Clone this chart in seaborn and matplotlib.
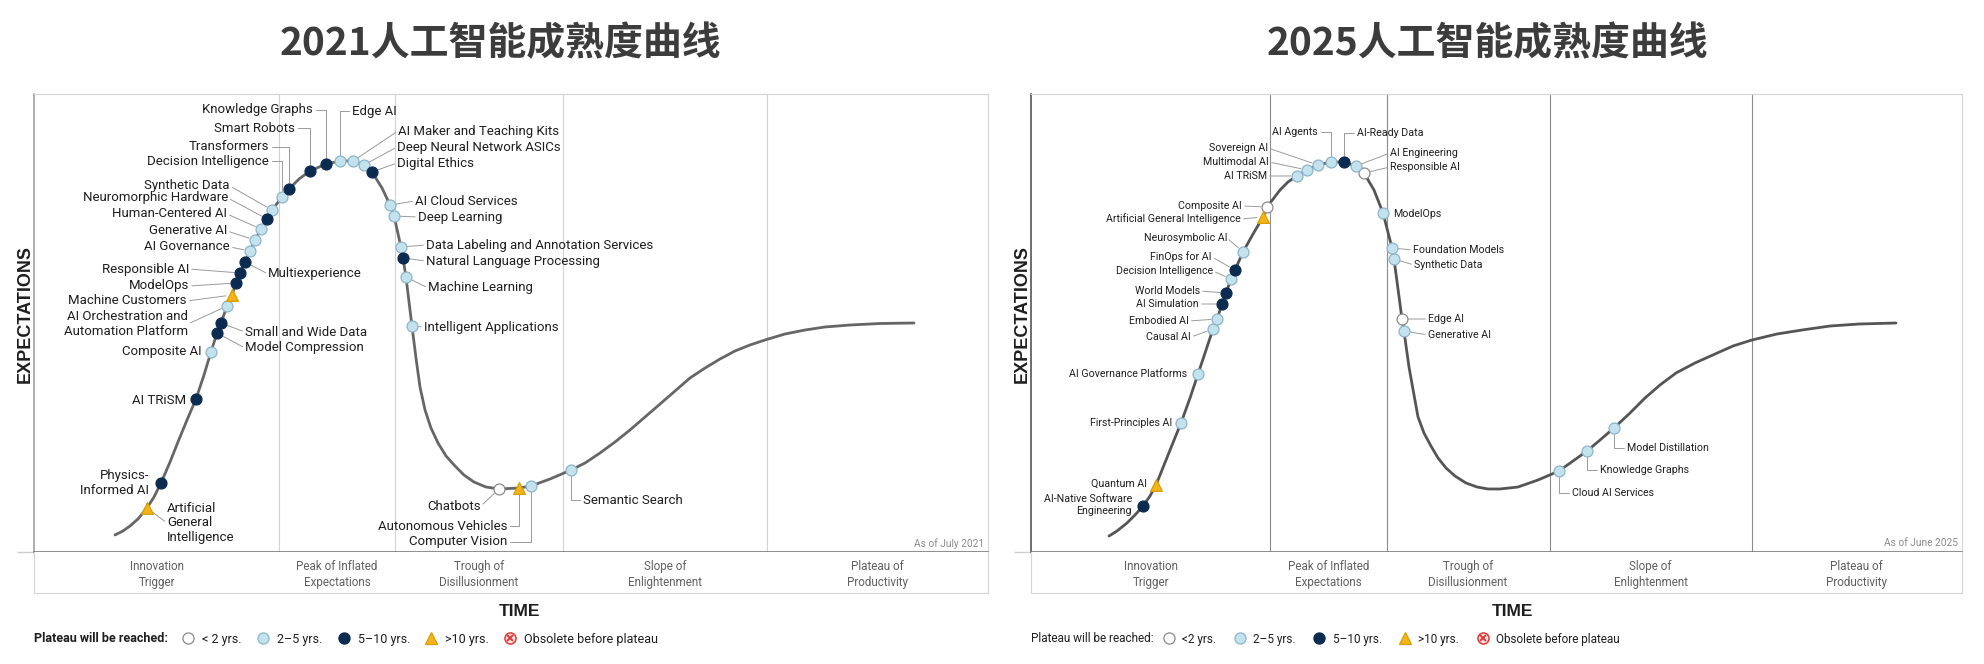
import numpy as np
import pandas as pd
import seaborn as sns
import matplotlib.pyplot as plt
from matplotlib.lines import Line2D
from matplotlib.legend_handler import HandlerTuple

# ---------------- 2021 hype cycle (time 0-100, expectations 0-100) ----------------
curve21_t = [8.49, 9.33, 10.06, 10.90, 11.84, 12.58, 13.31, 14.26, 15.09, 16.04, 16.98, 17.82,
             18.55, 19.18, 19.60, 20.23, 20.75, 21.17, 21.59, 22.12, 22.64, 23.17, 23.79, 24.42,
             24.95, 25.99, 26.73, 27.78, 28.93, 30.61, 32.08, 33.44, 34.59, 35.43, 36.48, 37.32,
             37.74, 38.47, 38.68, 38.99, 39.62, 40.04, 40.46, 40.99, 41.61, 42.35, 43.19, 44.13,
             45.07, 46.12, 47.38, 48.74, 50.84, 52.10, 54.09, 56.29, 57.76, 59.33, 60.90, 62.47,
             64.05, 65.62, 67.19, 68.76, 70.34, 71.91, 73.48, 75.05, 76.62, 78.72, 80.82, 82.91,
             85.53, 88.68, 92.24]
curve21_e = [3.71, 4.59, 5.68, 7.21, 9.61, 12.01, 15.07, 19.65, 24.02, 28.82, 33.41, 38.65,
             43.67, 47.82, 50.00, 53.71, 56.11, 58.73, 60.92, 63.32, 65.72, 68.12, 70.52, 72.71,
             74.67, 77.51, 79.26, 81.44, 83.19, 84.72, 85.37, 85.37, 84.50, 82.97, 79.48, 75.76,
             73.36, 66.59, 64.19, 60.04, 49.34, 42.36, 36.03, 31.00, 27.07, 23.80, 20.96, 18.78,
             16.81, 15.28, 14.19, 13.76, 13.97, 14.41, 15.94, 17.90, 19.43, 21.62, 24.02, 26.64,
             29.48, 32.31, 35.15, 37.99, 40.17, 42.14, 43.89, 45.20, 46.29, 47.60, 48.47, 49.13,
             49.56, 49.89, 50.00]

names21 = ["Artificial\nGeneral\nIntelligence", "Physics-\nInformed AI", "AI TRiSM", "Composite AI",
           "Model Compression", "Small and Wide Data", "AI Orchestration and\nAutomation Platform",
           "Machine Customers", "ModelOps", "Responsible AI", "Multiexperience", "AI Governance",
           "Generative AI", "Human-Centered AI", "Neuromorphic Hardware", "Synthetic Data",
           "Decision Intelligence", "Transformers", "Smart Robots", "Knowledge Graphs", "Edge AI",
           "AI Maker and Teaching Kits", "Deep Neural Network ASICs", "Digital Ethics",
           "AI Cloud Services", "Deep Learning", "Data Labeling and Annotation Services",
           "Natural Language Processing", "Machine Learning", "Intelligent Applications",
           "Chatbots", "Autonomous Vehicles", "Computer Vision", "Semantic Search"]
t21 = [11.84, 13.31, 16.98, 18.55, 19.18, 19.60, 20.23, 20.75, 21.17, 21.59, 22.12, 22.64,
       23.17, 23.79, 24.42, 24.95, 25.99, 26.73, 28.93, 30.61, 32.08, 33.44, 34.59, 35.43,
       37.32, 37.74, 38.47, 38.68, 38.99, 39.62, 48.74, 50.84, 52.10, 56.29]
e21 = [9.61, 15.07, 33.41, 43.67, 47.82, 50.00, 53.71, 56.11, 58.73, 60.92, 63.32, 65.72,
       68.12, 70.52, 72.71, 74.67, 77.51, 79.26, 83.19, 84.72, 85.37, 85.37, 84.50, 82.97,
       75.76, 73.36, 66.59, 64.19, 60.04, 49.34, 13.76, 13.97, 14.41, 17.90]
cat21 = [">10", "5-10", "5-10", "2-5", "5-10", "5-10", "2-5", ">10", "5-10", "5-10", "5-10", "2-5",
         "2-5", "2-5", "5-10", "2-5", "2-5", "5-10", "5-10", "5-10", "2-5", "2-5", "2-5", "5-10",
         "2-5", "2-5", "2-5", "5-10", "2-5", "2-5", "<2", ">10", "2-5", "2-5"]

# ---------------- 2025 hype cycle ----------------
curve25_t = [8.38, 9.24, 10.31, 11.17, 12.03, 12.78, 13.43, 14.72, 16.11, 17.08, 17.94, 18.80,
             19.55, 19.98, 20.52, 20.95, 21.48, 21.91, 22.77, 23.85, 24.92, 25.35, 26.75, 27.60,
             28.57, 29.65, 30.83, 32.22, 33.62, 34.91, 35.77, 36.84, 37.81, 38.78, 38.99, 39.85,
             40.06, 40.60, 41.14, 41.57, 42.21, 42.96, 43.72, 44.58, 45.54, 46.72, 47.91, 49.09,
             50.38, 52.31, 54.46, 56.71, 58.22, 59.72, 61.12, 62.62, 64.34, 65.95, 67.56, 69.28,
             71.32, 73.47, 75.40, 77.44, 80.13, 82.81, 85.82, 88.94, 92.91]
curve25_e = [3.49, 4.59, 6.33, 8.08, 10.04, 12.23, 14.63, 21.18, 28.17, 33.62, 38.86, 44.10,
             48.69, 50.87, 54.15, 56.55, 59.61, 61.57, 65.50, 69.43, 73.14, 75.33, 79.04, 80.79,
             82.10, 83.41, 84.50, 85.15, 85.15, 84.28, 82.75, 79.04, 74.02, 66.38, 63.97, 50.87,
             48.25, 40.39, 34.28, 29.48, 25.98, 23.14, 20.52, 18.34, 16.59, 15.07, 14.19, 13.76,
             13.76, 14.19, 15.72, 17.69, 19.87, 22.05, 24.45, 27.07, 30.35, 33.62, 36.46, 39.08,
             41.27, 43.23, 44.98, 46.29, 47.60, 48.47, 49.34, 49.78, 50.00]

names25 = ["AI-Native Software\nEngineering", "Quantum AI", "First-Principles AI",
           "AI Governance Platforms", "Causal AI", "Embodied AI", "AI Simulation", "World Models",
           "Decision Intelligence", "FinOps for AI", "Neurosymbolic AI",
           "Artificial General Intelligence", "Composite AI", "AI TRiSM", "Multimodal AI",
           "Sovereign AI", "AI Agents", "AI-Ready Data", "AI Engineering", "Responsible AI",
           "ModelOps", "Foundation Models", "Synthetic Data", "Edge AI", "Generative AI",
           "Cloud AI Services", "Knowledge Graphs", "Model Distillation"]
t25 = [12.03, 13.43, 16.11, 17.94, 19.55, 19.98, 20.52, 20.95, 21.48, 21.91, 22.77, 24.92,
       25.35, 28.57, 29.65, 30.83, 32.22, 33.62, 34.91, 35.77, 37.81, 38.78, 38.99, 39.85,
       40.06, 56.71, 59.72, 62.62]
e25 = [10.04, 14.63, 28.17, 38.86, 48.69, 50.87, 54.15, 56.55, 59.61, 61.57, 65.50, 73.14,
       75.33, 82.10, 83.41, 84.50, 85.15, 85.15, 84.28, 82.75, 74.02, 66.38, 63.97, 50.87,
       48.25, 17.69, 22.05, 27.07]
cat25 = ["5-10", ">10", "2-5", "2-5", "2-5", "2-5", "5-10", "5-10", "2-5", "5-10", "2-5", ">10",
         "<2", "2-5", "2-5", "2-5", "2-5", "5-10", "2-5", "<2", "2-5", "2-5", "2-5", "<2",
         "2-5", "2-5", "2-5", "2-5"]

phases = ["Innovation\nTrigger", "Peak of Inflated\nExpectations", "Trough of\nDisillusionment",
          "Slope of\nEnlightenment", "Plateau of\nProductivity"]
bounds21 = [25.7, 37.8, 55.5, 76.8]
bounds25 = [25.7, 38.2, 55.7, 77.4]

legend_labels21 = ["< 2 yrs.", "2\u20135 yrs.", "5\u201310 yrs.", ">10 yrs.", "Obsolete before plateau"]
legend_labels25 = ["<2 yrs.", "2\u20135 yrs.", "5\u201310 yrs.", ">10 yrs.", "Obsolete before plateau"]

# ---------------- styles / layout ----------------
STYLE = {
    "<2": dict(marker="o", color="white", edgecolor="#8a8a8a", s=62),
    "2-5": dict(marker="o", color="#c4e1ee", edgecolor="#8db5c9", s=62),
    "5-10": dict(marker="o", color="#0c2b50", edgecolor="#0c2b50", s=62),
    ">10": dict(marker="^", color="#f2b418", edgecolor="#d99f00", s=72),
}

W, H = 1984, 664
YT, YB, BB = 94, 552, 593

# label anchor (pixel x, pixel y, alignment, leader kind)
lab21 = [(167, 523, "left", "s"), (149, 483, "right", None), (186, 401, "right", None),
         (202, 352, "right", None), (245, 348, "left", "s"), (245, 332, "left", "s"),
         (188, 324, "right", "s"), (187, 301, "right", "s"), (189, 286, "right", "s"),
         (189, 269, "right", "s"), (268, 274, "left", "s"), (230, 247, "right", "s"),
         (227, 231, "right", "s"), (227, 214, "right", "s"), (228, 198, "right", "s"),
         (230, 186, "right", "s"), (269, 161, "right", "e"), (269, 147, "right", "e"),
         (295, 128, "right", "e"), (313, 110, "right", "e"), (352, 111, "left", "e"),
         (398, 131, "left", "s"), (397, 147, "left", "s"), (397, 163, "left", "s"),
         (415, 201, "left", "s"), (418, 217, "left", "s"), (426, 245, "left", "s"),
         (426, 261, "left", "s"), (428, 288, "left", "s"), (424, 327, "left", "s"),
         (481, 506, "right", "s"), (507, 526, "right", "e"), (507, 542, "right", "e"),
         (583, 500, "left", "e")]
lab25 = [(1132, 505, "right", None), (1147, 484, "right", None), (1172, 423, "right", None),
         (1187, 374, "right", None), (1191, 337, "right", "s"), (1189, 321, "right", "s"),
         (1199, 304, "right", "s"), (1200, 291, "right", "s"), (1213, 271, "right", "s"),
         (1212, 257, "right", "s"), (1227, 238, "right", "s"), (1241, 219, "right", "s"),
         (1242, 206, "right", "s"), (1267, 176, "right", "s"), (1269, 162, "right", "s"),
         (1268, 148, "right", "s"), (1318, 132, "right", "e"), (1357, 133, "left", "e"),
         (1390, 153, "left", "s"), (1390, 167, "left", "s"), (1393, 214, "left", None),
         (1413, 250, "left", "s"), (1414, 265, "left", "s"), (1428, 319, "left", "s"),
         (1428, 335, "left", "s"), (1572, 493, "left", "e"), (1600, 470, "left", "e"),
         (1627, 448, "left", "e")]

sns.set_theme(style="white")
plt.rcParams["font.family"] = ["Roboto", "DejaVu Sans"]

fig = plt.figure(figsize=(W / 100, H / 100), dpi=100)
fig.patch.set_facecolor("white")


def draw_panel(x0, x1, curve_t, curve_e, names, t, e, cat, labels, bounds, fs,
               left_col, bottom_col, div_col, curve_col, stamp, stamp_text, title, title_x,
               time_x, legend_labels, legend_bold, leg_fs, leg_x, colsp):
    ax = fig.add_axes([x0 / W, 1 - YB / H, (x1 - x0) / W, (YB - YT) / H])
    band = fig.add_axes([x0 / W, 1 - BB / H, (x1 - x0) / W, (BB - YB) / H])

    def p2d(px, py):
        return (px - x0) / (x1 - x0) * 100, (YB - py) / (YB - YT) * 100

    ax.set_xlim(0, 100)
    ax.set_ylim(0, 100)
    ax.set_xticks([])
    ax.set_yticks([0])
    ax.set_yticklabels([])
    ax.tick_params(axis="y", length=12, color="#cfcfcf", width=1, left=True)
    for side in ["top", "right"]:
        ax.spines[side].set_color("#d5d5d5")
        ax.spines[side].set_linewidth(0.8)
    ax.spines["left"].set_color(left_col)
    ax.spines["left"].set_linewidth(1.2)
    ax.spines["bottom"].set_color(bottom_col)
    ax.spines["bottom"].set_linewidth(1.2)
    for b in bounds:
        ax.axvline(b, color=div_col, lw=0.8, zorder=0)

    sns.lineplot(x=curve_t, y=curve_e, sort=False, estimator=None, color=curve_col,
                 lw=2.0, ax=ax, zorder=2)

    df = pd.DataFrame({"name": names, "t": t, "e": e, "cat": cat})
    for c, st in STYLE.items():
        sub = df[df["cat"] == c]
        if len(sub):
            sns.scatterplot(data=sub, x="t", y="e", marker=st["marker"], color=st["color"],
                            edgecolor=st["edgecolor"], s=st["s"], linewidth=0.9, ax=ax,
                            zorder=5, legend=False)

    for (name, ti, ei), (lx, ly, ha, kind) in zip(zip(names, t, e), labels):
        arrow = None
        if kind is not None:
            cs = "angle,angleA=0,angleB=90,rad=0" if kind == "e" else "arc3"
            arrow = dict(arrowstyle="-", color="#9a9a9a", lw=0.7, shrinkA=2, shrinkB=4.5,
                         patchA=None, relpos=(1, 0.5) if ha == "right" else (0, 0.5),
                         connectionstyle=cs)
        ax.annotate(name, xy=(ti, ei), xytext=p2d(lx, ly), textcoords="data", ha=ha,
                    va="center", multialignment=ha, fontsize=fs, color="#1e1e1e",
                    linespacing=1.15, arrowprops=arrow, zorder=3, annotation_clip=False)

    ax.set_xlabel("")
    ax.set_ylabel("")
    sx, sy = p2d(*stamp)
    ax.text(sx, sy, stamp_text, ha="right", va="center", fontsize=7.3, color="#8c8c8c")

    band.set_xlim(0, 100)
    band.set_ylim(0, 1)
    band.set_xticks([])
    band.set_yticks([])
    band.spines["top"].set_visible(False)
    for side in ["left", "right", "bottom"]:
        band.spines[side].set_color("#d5d5d5")
        band.spines[side].set_linewidth(0.8)
    edges = [0] + bounds + [100]
    for i, ph in enumerate(phases):
        band.text((edges[i] + edges[i + 1]) / 2, 0.45, ph, ha="center", va="center",
                  fontsize=8.4, color="#5f5f5f", linespacing=1.3)

    fig.text(title_x / W, 1 - 44 / H, title, ha="center", va="center", fontsize=28,
             fontweight="bold", color="#3c3c3c", family=["Noto Sans CJK SC", "DejaVu Sans"])
    fig.text((x0 - 9) / W, 1 - 314 / H, "EXPECTATIONS", rotation=90, ha="center",
             va="center", fontsize=13, fontweight="bold", color="#1e1e1e",
             family=["Liberation Sans", "DejaVu Sans"])
    fig.text(time_x / W, 1 - 611 / H, "TIME", ha="center", va="center", fontsize=12.5,
             fontweight="bold", color="#1e1e1e", family=["Liberation Sans", "DejaVu Sans"])

    fig.text(x0 / W, 1 - 639 / H, "Plateau will be reached:", ha="left", va="center",
             fontsize=leg_fs, fontweight="bold" if legend_bold else "normal", color="#1e1e1e")
    handles = []
    for c in ["<2", "2-5", "5-10", ">10"]:
        st = STYLE[c]
        handles.append(Line2D([], [], ls="", marker=st["marker"], markersize=8,
                              markerfacecolor=st["color"], markeredgecolor=st["edgecolor"],
                              markeredgewidth=0.9))
    handles.append((Line2D([], [], ls="", marker="o", markersize=8, markerfacecolor="#fbe3e3",
                           markeredgecolor="#e03a3a", markeredgewidth=1.1),
                    Line2D([], [], ls="", marker="x", markersize=4.5, markeredgecolor="#e03a3a",
                           markeredgewidth=1.4)))
    fig.legend(handles, legend_labels, loc="center left",
               bbox_to_anchor=(leg_x / W, 1 - 639 / H), bbox_transform=fig.transFigure,
               ncol=5, frameon=False, fontsize=leg_fs, handlelength=1.0, handletextpad=0.62,
               columnspacing=colsp, borderpad=0, borderaxespad=0,
               handler_map={tuple: HandlerTuple(ndivide=1, pad=0)}, labelcolor="#1e1e1e")
    return ax


draw_panel(34, 988, curve21_t, curve21_e, names21, t21, e21, cat21, lab21, bounds21, 9.5,
           "#a0a0a0", "#7a7a7a", "#d2d2d2", "#666666", (984, 544), "As of July 2021",
           "2021人工智能成熟度曲线", 501, 519, legend_labels21, True, 9, 182, 1.2)
draw_panel(1031, 1962, curve25_t, curve25_e, names25, t25, e25, cat25, lab25, bounds25, 7.7,
           "#555555", "#7a7a7a", "#8c8c8c", "#555555", (1958, 543), "As of June 2025",
           "2025人工智能成熟度曲线", 1487, 1512, legend_labels25, False, 8.5, 1163, 1.5)

fig.savefig("out.png", dpi=100, facecolor="white")
